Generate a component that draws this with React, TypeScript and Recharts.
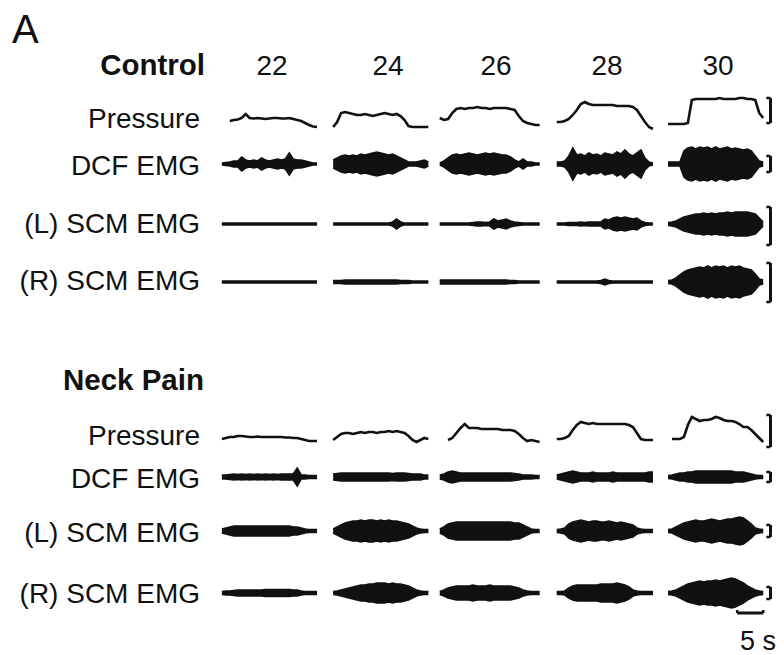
import React from "react";
import { ComposedChart, Line, Area, XAxis, YAxis, ReferenceLine } from "recharts";

// ---- data ----
const levels = ["22", "24", "26", "28", "30"];
const rowLabels = ["Pressure", "DCF EMG", "(L) SCM EMG", "(R) SCM EMG"];
const groupLabels = ["Control", "Neck Pain"];
const scaleLabel = "5 s";
const scaleSeconds = 5;

// start time (s) and duration (s) of each trial window
const colStart = [1.9, 23.3, 43.8, 66.3, 87.7];
const colDur = [18.3, 18.3, 19.2, 18.5, 18.3];

// pressure traces (arbitrary units above baseline)
const ctrlPressure: (number | null)[][] = [
  [null, null, 7, 8, 8.5, 10, 14, 10, 9.5, 10, 9.5, 9, 9.5, 10, 10, 9.5, 9.5, 10, 9, 8, 7, 5, 3, 1.5, 1],
  [1, 6, 15, 16, 15, 14, 13, 13, 14, 13, 12, 13, 14, 15, 14, 13, 14, 12, 8, 2, 1, 1, 1, 1, 1],
  [10, 8, 9, 15, 19, 20, 19, 20, 20, 21, 20, 20, 19, 20, 20, 20, 20, 19, 18, 12, 7, 5, 4, 3, 3],
  [6, 6, 7, 9, 13, 18, 24, 26, 24, 23, 23, 23, 23, 23, 23, 22, 22, 22, 22, 21, 18, 12, 6, 1, -1],
  [4, 4, 4, 4, 4, 5, 28, 29, 29, 29, 29, 29, 29, 30, 29, 29, 29, 29, 30, 30, 29, 29, 28, 15, 10],
];
const neckPressure: (number | null)[][] = [
  [6, 7, 8, 8, 9, 9, 8.5, 8, 8, 8.5, 8, 8, 8, 8, 8, 8, 7.5, 7.5, 7, 7, 6, 5, 4, 4, 4],
  [5, 8, 11, 12, 12, 11, 12, 13, 12, 13, 13, 12, 13, 13, 14, 13, 14, 13, 12, 9, 5, 3, 5, 7, 6],
  [null, null, 5, 7, 12, 17, 21, 17, 17, 17, 16, 16, 16, 16, 16, 15, 15, 15, 14, 11, 7, 4, 5, 4, 3],
  [6, 6, 7, 9, 15, 20, 23, 22, 21, 22, 21, 21, 21, 21, 21, 21, 21, 21, 20, 18, 12, 6, 5, 5, 5],
  [null, 6, 6, 6, 8, 20, 28, 26, 24, 25, 25, 26, 28, 27, 25, 24, 24, 23, 21, 18, 18, 15, 11, 7, 3],
];

// EMG envelopes (half amplitude, arbitrary units)
const ctrlDCF: number[][] = [
  [1, 1.5, 2, 3, 3, 7, 4, 3, 4, 3, 6, 4, 3, 4, 5, 4, 5, 11, 5, 4, 4, 3, 2, 1, 1],
  [4, 6, 8, 9, 8, 9, 8, 10, 9, 10, 11, 12, 11, 10, 9, 10, 8, 6, 4, 2, 2, 2, 3, 4, 2],
  [1, 3, 6, 9, 10, 9, 10, 11, 10, 9, 10, 11, 10, 11, 10, 9, 9, 7, 4, 2, 5, 2, 2, 1, 1],
  [2, 2, 3, 8, 16, 9, 10, 8, 11, 9, 10, 8, 11, 10, 9, 12, 10, 14, 10, 8, 11, 14, 6, 2, 1],
  [2, 2, 2, 2, 13, 16, 17, 15, 17, 16, 17, 15, 17, 15, 16, 17, 15, 16, 15, 14, 15, 13, 8, 3, 2],
];
const ctrlLSCM: number[][] = [
  [1, 1, 1, 1, 1, 1, 1, 1, 1, 1, 1, 1, 1, 1, 1, 1, 1, 1, 1, 1, 1, 1, 1, 1, 1],
  [1, 1, 1, 1, 1, 1, 1, 1, 1, 1, 1, 1, 1, 1, 1, 2, 5, 2, 1, 1, 1, 1, 1, 1, 1],
  [1, 1, 1, 1, 1, 1, 1, 1, 1.5, 2, 2, 1.5, 2, 5, 3, 4, 5, 3, 2, 1.5, 1, 1, 1, 1, 1],
  [1, 1, 1, 1.5, 1.5, 1.5, 2, 1.5, 2, 2, 2, 2, 5, 4, 6, 7, 6, 7, 6, 5, 6, 3, 1.5, 1, 1],
  [1.5, 2, 3, 5, 7, 8, 9, 10, 10, 11, 10, 11, 10, 11, 11, 12, 11, 12, 12, 12, 12, 11, 10, 6, 2],
];
const ctrlRSCM: number[][] = [
  [1, 1, 1, 1, 1, 1, 1, 1, 1, 1, 1, 1, 1, 1, 1, 1, 1, 1, 1, 1, 1, 1, 1, 1, 1],
  [1.5, 1.5, 1.5, 2, 2, 2, 2, 2, 2, 2, 2, 2, 2, 2, 2, 2, 2, 1.5, 1.5, 1.5, 1, 1, 1, 1, 1],
  [2, 2, 2, 2, 2, 2, 2, 2, 2, 2, 2, 2, 2, 2, 2, 2, 2, 1.5, 1.5, 1, 1, 1, 1, 1, 1],
  [1, 1, 1, 1, 1, 1, 1, 1, 1, 1, 1, 1.5, 3, 1.5, 1, 1, 1, 1, 1, 1, 1, 1, 1, 1, 1],
  [1.5, 2, 4, 7, 10, 12, 13, 14, 15, 14, 16, 14, 16, 15, 16, 14, 16, 15, 16, 14, 13, 12, 8, 3, 2],
];
const neckDCF: number[][] = [
  [2, 2, 2.5, 3, 2.5, 3, 2.5, 3, 2.5, 3, 2.5, 3, 2.5, 3, 2.5, 3, 3, 3, 3, 9, 2, 2, 1.5, 1.5, 1.5],
  [3, 3.5, 4, 4, 4, 4, 4, 4, 4, 4, 4, 4, 4, 4, 4, 3.5, 4, 4, 4, 3.5, 3, 3, 3, 2, 2],
  [2, 3, 5, 6, 5, 4, 4, 4, 4, 4, 4, 4, 4, 4, 4, 4, 4, 4, 3.5, 3, 2, 2, 2, 1.5, 1.5],
  [2, 3, 4, 5, 6, 5, 4, 4, 4, 5, 4, 4, 4, 4, 5, 4, 4, 4, 4, 4, 4, 4, 4, 5, 5],
  [1.5, 2, 3, 4, 4, 5, 5, 6, 6, 6, 6, 6, 6, 6, 6, 6, 6, 5, 5, 5, 4, 3, 2, 1.5, 1.5],
];
const neckLSCM: number[][] = [
  [2, 3, 4, 5, 5, 5, 5, 5, 5, 5, 5, 5, 5, 5, 5, 5, 5, 5, 4, 4, 3, 2, 1.5, 1.5, 1.5],
  [2, 4, 6, 8, 9, 10, 10, 11, 10, 11, 11, 10, 11, 10, 11, 10, 10, 9, 8, 7, 5, 3, 2, 1.5, 1.5],
  [2, 4, 7, 8, 9, 9, 9, 9, 9, 9, 9, 9, 9, 9, 9, 9, 9, 9, 8, 8, 6, 4, 2, 1.5, 1.5],
  [1.5, 2, 3, 7, 9, 10, 11, 10, 9, 10, 10, 9, 9, 10, 9, 8, 9, 8, 7, 6, 3, 2, 1.5, 1.5, 1.5],
  [1.5, 2, 4, 6, 8, 9, 10, 11, 10, 10, 11, 12, 11, 10, 11, 12, 12, 13, 14, 13, 10, 7, 3, 2, 1.5],
];
const neckRSCM: number[][] = [
  [1.5, 2, 2, 2.5, 3, 3, 3, 3, 3, 3, 3, 3.5, 3.5, 3.5, 3.5, 3.5, 3.5, 3.5, 3, 3, 2, 1.5, 1.5, 1.5, 1.5],
  [1.5, 2, 3, 4, 5, 6, 7, 8, 8, 9, 9, 10, 10, 10, 9, 10, 9, 9, 8, 7, 5, 3, 2, 1.5, 1.5],
  [1.5, 3, 5, 6, 7, 7, 7, 7, 8, 7, 7, 7, 8, 7, 7, 7, 7, 7, 6, 5, 3, 2, 1.5, 1.5, 1.5],
  [1.5, 1.5, 2, 5, 7, 8, 8, 8, 8, 8, 8, 9, 9, 9, 9, 10, 9, 8, 6, 3, 2, 1.5, 1.5, 1.5, 1.5],
  [1.5, 2, 3, 5, 7, 9, 10, 11, 12, 11, 12, 12, 13, 12, 13, 14, 15, 14, 12, 10, 7, 5, 3, 2, 1.5],
];

// calibration bracket extents per row (same units as the traces)
const ctrlBrackets: [number, number][] = [[5, 30], [-8, 8], [-21, 17], [-20, 19]];
const neckBrackets: [number, number][] = [[-2, 30], [-5, 5], [-6, 6], [-6, 6]];

// ---- layout ----
const INK = "#111";
const FONT = "'Liberation Sans', Arial, Helvetica, sans-serif";
const CH_LEFT = 212;
const CH_W = 572;
const CH_H = 70;
const T_MAX = 110;
const BRACKET_T = 107.4;
const ctrlZero = [128, 164, 224, 282];
const neckZero = [445, 477, 531, 593];
const ctrlBase = [128, 175, 233, 290];
const neckBase = [445, 488, 542, 603];
const headerX = [272, 388, 496, 607, 718];

type RowProps = {
  zero: number;
  kind: "p" | "emg";
  cols: (number | null)[][];
  bracket: [number, number];
  scaleBar?: boolean;
};

function toPoints(vals: (number | null)[], c: number, kind: "p" | "emg") {
  const n = vals.length;
  return vals.map((v, k) => {
    const t = colStart[c] + (k * colDur[c]) / (n - 1);
    if (kind === "p") return { t, v };
    const a = v as number;
    return { t, r: [-a, a] };
  });
}

function TraceRow({ zero, kind, cols, bracket, scaleBar }: RowProps) {
  const [lo, hi] = bracket;
  const tick = 0.8;
  return (
    <div style={{ position: "absolute", left: CH_LEFT, top: zero - CH_H / 2, width: CH_W, height: CH_H }}>
      <ComposedChart width={CH_W} height={CH_H} margin={{ top: 0, right: 0, bottom: 0, left: 0 }}>
        <XAxis type="number" dataKey="t" domain={[0, T_MAX]} hide allowDataOverflow />
        <YAxis type="number" domain={[-CH_H / 2, CH_H / 2]} hide allowDataOverflow />
        {cols.map((vals, c) =>
          kind === "p" ? (
            <Line
              key={c}
              data={toPoints(vals, c, kind)}
              dataKey="v"
              type="linear"
              stroke={INK}
              strokeWidth={2.6}
              dot={false}
              activeDot={false}
              connectNulls={false}
              isAnimationActive={false}
            />
          ) : (
            <Area
              key={c}
              data={toPoints(vals, c, kind)}
              dataKey="r"
              type="linear"
              stroke={INK}
              strokeWidth={1.6}
              fill={INK}
              fillOpacity={1}
              dot={false}
              activeDot={false}
              isAnimationActive={false}
            />
          )
        )}
        <ReferenceLine segment={[{ x: BRACKET_T, y: lo }, { x: BRACKET_T, y: hi }]} stroke={INK} strokeWidth={3} />
        <ReferenceLine segment={[{ x: BRACKET_T - tick, y: hi }, { x: BRACKET_T, y: hi }]} stroke={INK} strokeWidth={2.5} />
        <ReferenceLine segment={[{ x: BRACKET_T - tick, y: lo }, { x: BRACKET_T, y: lo }]} stroke={INK} strokeWidth={2.5} />
        {scaleBar && (
          <ReferenceLine segment={[{ x: 101, y: -20 }, { x: 101 + scaleSeconds, y: -20 }]} stroke={INK} strokeWidth={3} />
        )}
        {scaleBar && (
          <ReferenceLine segment={[{ x: 101, y: -20 }, { x: 101, y: -17 }]} stroke={INK} strokeWidth={2.5} />
        )}
        {scaleBar && (
          <ReferenceLine segment={[{ x: 101 + scaleSeconds, y: -20 }, { x: 101 + scaleSeconds, y: -17 }]} stroke={INK} strokeWidth={2.5} />
        )}
      </ComposedChart>
    </div>
  );
}

export default function App() {
  const ctrlCols = [ctrlPressure, ctrlDCF, ctrlLSCM, ctrlRSCM];
  const neckCols = [neckPressure, neckDCF, neckLSCM, neckRSCM];
  return (
    <div style={{ position: "absolute", left: 0, top: 0, width: 784, height: 655, background: "#fff", overflow: "hidden" }}>
      <svg width={784} height={655} style={{ position: "absolute", left: 0, top: 0 }} fontFamily={FONT} fill={INK}>
        <text x={12} y={43} fontSize={40}>A</text>
        <text x={205} y={75} fontSize={29.5} fontWeight="bold" textAnchor="end">{groupLabels[0]}</text>
        {levels.map((l, i) => (
          <text key={l} x={headerX[i]} y={75} fontSize={28} textAnchor="middle">{l}</text>
        ))}
        {rowLabels.map((l, i) => (
          <text key={"c" + l} x={200} y={ctrlBase[i]} fontSize={28} textAnchor="end">{l}</text>
        ))}
        <text x={204} y={390} fontSize={29.5} fontWeight="bold" textAnchor="end">{groupLabels[1]}</text>
        {rowLabels.map((l, i) => (
          <text key={"n" + l} x={200} y={neckBase[i]} fontSize={28} textAnchor="end">{l}</text>
        ))}
        <text x={776} y={650} fontSize={27} textAnchor="end">{scaleLabel}</text>
      </svg>
      {ctrlCols.map((cols, i) => (
        <TraceRow key={"c" + i} zero={ctrlZero[i]} kind={i === 0 ? "p" : "emg"} cols={cols} bracket={ctrlBrackets[i]} />
      ))}
      {neckCols.map((cols, i) => (
        <TraceRow
          key={"n" + i}
          zero={neckZero[i]}
          kind={i === 0 ? "p" : "emg"}
          cols={cols}
          bracket={neckBrackets[i]}
          scaleBar={i === 3}
        />
      ))}
    </div>
  );
}
